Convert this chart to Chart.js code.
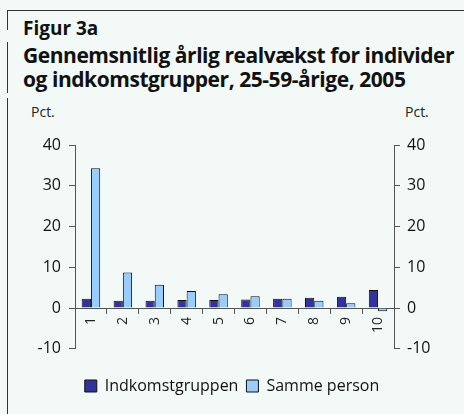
<!DOCTYPE html>
<html lang="da">
<head>
    <meta charset="UTF-8">
    <title>Figur 3a</title>
    <script src="https://cdn.jsdelivr.net/npm/chart.js"></script>
    <style>
        body { margin: 0; background: #f2f9f7; font-family: "Open Sans", sans-serif; }
        #wrap { position: relative; width: 464px; height: 414px; overflow: hidden; }
        .rule { position: absolute; background: #333; }
        .txt { position: absolute; color: #111; white-space: nowrap; }
        #fig { left: 23px; top: 15px; font-size: 19px; font-weight: 700; }
        #title { left: 23px; top: 43px; font-size: 21px; font-weight: 700; line-height: 24px; letter-spacing: -0.45px; }
        .pct { top: 102px; font-size: 14px; color: #222; }
        #chart-box { position: absolute; left: 0; top: 0; width: 464px; height: 414px; }
    </style>
</head>
<body>
<div id="wrap">
    <div class="rule" style="left:7px; top:10px; width:457px; height:1px;"></div>
    <div class="rule" style="left:7px; top:10px; width:1px; height:20px;"></div>
    <div class="rule" style="left:7px; top:42px; width:1px; height:51px;"></div>
    <div class="rule" style="left:7px; top:98px; width:1px; height:316px;"></div>
    <div class="txt" id="fig">Figur 3a</div>
    <div class="txt" id="title">Gennemsnitlig årlig realvækst for individer<br>og indkomstgrupper, 25-59-årige, 2005</div>
    <div class="txt pct" style="left:31px;">Pct.</div>
    <div class="txt pct" style="left:405px;">Pct.</div>
    <div id="chart-box"><canvas id="c"></canvas></div>
</div>
<script>
    // data
    const labels = ['1', '2', '3', '4', '5', '6', '7', '8', '9', '10'];
    const indkomstgruppen = [2.3, 1.8, 1.8, 2.0, 2.0, 2.1, 2.3, 2.5, 2.8, 4.4];
    const sammePerson = [34.3, 8.7, 5.7, 4.2, 3.4, 2.9, 2.3, 1.8, 1.2, -0.8];
    const yTicks = [-10, 0, 10, 20, 30, 40];

    const axisColor = '#555';
    const tickFont = { family: 'Open Sans', size: 16 };

    new Chart(document.getElementById('c'), {
        type: 'bar',
        data: {
            labels: labels,
            datasets: [
                { label: 'Indkomstgruppen', data: indkomstgruppen, backgroundColor: '#333399', borderColor: '#111', borderWidth: 1 },
                { label: 'Samme person', data: sammePerson, backgroundColor: '#99ccff', borderColor: '#111', borderWidth: 1 }
            ]
        },
        options: {
            responsive: true,
            maintainAspectRatio: false,
            animation: false,
            categoryPercentage: 0.58,
            barPercentage: 1.0,
            layout: { padding: { top: 145, left: 0, right: 0, bottom: 10 } },
            plugins: {
                tooltip: { enabled: false },
                legend: {
                    position: 'bottom',
                    title: { display: true, text: '', padding: { top: 20, bottom: 0 }, font: { size: 1 } },
                    labels: { boxWidth: 12, boxHeight: 12, padding: 8, color: '#111', font: { family: 'Open Sans', size: 16 } }
                }
            },
            scales: {
                x: {
                    position: { y: 0 },
                    grid: { display: true, drawOnChartArea: false, offset: true, tickLength: 5, color: axisColor },
                    border: { color: axisColor },
                    ticks: { minRotation: 90, maxRotation: 90, padding: 4, color: '#222', font: { family: 'Open Sans', size: 14 } }
                },
                y: {
                    position: 'left',
                    min: -10, max: 40,
                    afterBuildTicks: s => { s.ticks = yTicks.map(v => ({ value: v })); },
                    afterFit: s => { s.width = 75; },
                    grid: { drawOnChartArea: false, tickLength: 6, color: axisColor },
                    border: { color: axisColor },
                    ticks: { padding: 8, color: '#111', font: tickFont }
                },
                y2: {
                    position: 'right',
                    min: -10, max: 40,
                    afterBuildTicks: s => { s.ticks = yTicks.map(v => ({ value: v })); },
                    afterFit: s => { s.width = 70; },
                    grid: { drawOnChartArea: false, tickLength: 6, color: axisColor },
                    border: { color: axisColor },
                    ticks: { padding: 7, color: '#111', font: tickFont }
                }
            }
        }
    });
</script>
</body>
</html>
